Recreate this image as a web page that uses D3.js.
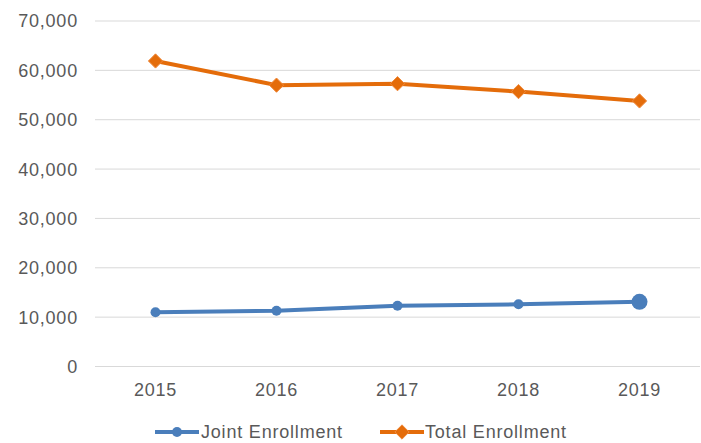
<!DOCTYPE html>
<html><head><meta charset="utf-8">
<script src="https://cdn.jsdelivr.net/npm/d3@7"></script>
<style>body{margin:0;background:#fff}svg{display:block}text{font-family:"Liberation Sans",Arial,sans-serif;fill:#595959;letter-spacing:0.8px}</style>
</head><body><svg id="c" width="701" height="443"></svg>
<script>
const years = ["2015","2016","2017","2018","2019"];
const jointEnrollment = [10900, 11200, 12200, 12500, 13000];
const totalEnrollment = [61800, 56900, 57200, 55600, 53700];
const yTicks = [0,10000,20000,30000,40000,50000,60000,70000];
const seriesNames = ["Joint Enrollment","Total Enrollment"];
const colors = ["#4A7EBB","#E46C0A"];

const svg = d3.select("#c");
const x = d3.scaleBand().domain(years).range([95,700]);
const y = d3.scaleLinear().domain([0,70000]).range([366,20.5]);

const yAxis = svg.append("g").attr("transform","translate(95,0)")
  .call(d3.axisLeft(y).tickValues(yTicks).tickSize(-605).tickFormat(d3.format(",")));
yAxis.select(".domain").remove();
yAxis.selectAll("line").attr("stroke","#D9D9D9").attr("stroke-width",1);
yAxis.selectAll("text").attr("x",-17).attr("dy","0.36em").style("font-size","18px").style("fill","#595959");

const xAxis = svg.append("g").attr("transform","translate(0,366)")
  .call(d3.axisBottom(x).tickSize(0));
xAxis.select(".domain").remove();
xAxis.selectAll("text").attr("y",24).attr("dy","0.36em").style("font-size","18px").style("fill","#595959");

const cx = d => x(d) + x.bandwidth()/2;
const line = d3.line().x((d,i)=>cx(years[i])).y(d=>y(d));

svg.append("path").datum(totalEnrollment).attr("d",line).attr("fill","none")
  .attr("stroke",colors[1]).attr("stroke-width",4).attr("stroke-linejoin","round");
svg.append("path").datum(jointEnrollment).attr("d",line).attr("fill","none")
  .attr("stroke",colors[0]).attr("stroke-width",4).attr("stroke-linejoin","round");

const diamond = d3.symbol().type(d3.symbolDiamond2).size(130);
svg.selectAll(".dm").data(totalEnrollment).enter().append("path")
  .attr("d",diamond).attr("transform",(d,i)=>`translate(${cx(years[i])},${y(d)})`)
  .attr("fill",colors[1]).attr("stroke","#F08A3C").attr("stroke-width",1);
svg.selectAll(".ci").data(jointEnrollment).enter().append("circle")
  .attr("cx",(d,i)=>cx(years[i])).attr("cy",d=>y(d))
  .attr("r",(d,i)=> i===years.length-1 ? 8 : 5).attr("fill",colors[0]);

// legend
const lg = svg.append("g");
const items = [{x:155, tx:201},{x:380, tx:425}];
items.forEach((it,i)=>{
  lg.append("line").attr("x1",it.x).attr("x2",it.x+44).attr("y1",432).attr("y2",432)
    .attr("stroke",colors[i]).attr("stroke-width",4);
  if(i===0){
    lg.append("circle").attr("cx",it.x+22).attr("cy",432).attr("r",5).attr("fill",colors[0]);
  } else {
    lg.append("path").attr("d",diamond).attr("transform",`translate(${it.x+22},432)`)
      .attr("fill",colors[1]).attr("stroke","#F08A3C");
  }
  lg.append("text").attr("x",it.tx).attr("y",432).attr("dy","0.36em")
    .style("font-size","18px").text(seriesNames[i]);
});
</script></body></html>
